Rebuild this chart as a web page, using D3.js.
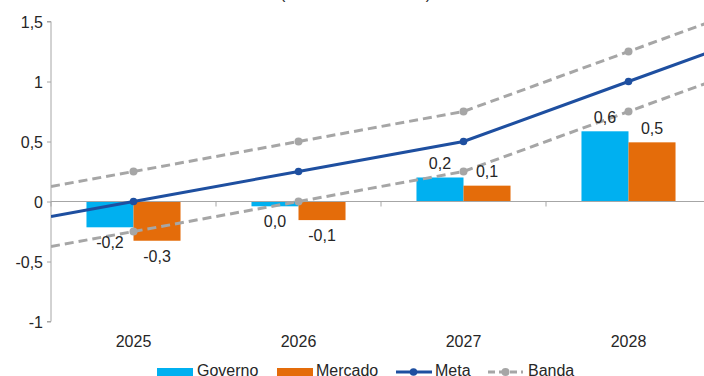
<!DOCTYPE html>
<html>
<head>
<meta charset="utf-8">
<script src="https://cdn.jsdelivr.net/npm/d3@7"></script>
<style>
  html, body { margin: 0; padding: 0; background: #fff; }
  svg { display: block; font-family: "Liberation Sans", Arial, sans-serif; }
</style>
</head>
<body>
<svg id="chart" width="704" height="376"></svg>
<script>
// ---- data ----
const years = ["2025", "2026", "2027", "2028"];
const governo = [-0.215, -0.04, 0.2, 0.585];
const mercado = [-0.327, -0.155, 0.132, 0.493];
const governoLabels = ["-0,2", "0,0", "0,2", "0,6"];
const mercadoLabels = ["-0,3", "-0,1", "0,1", "0,5"];
const meta = [0, 0.25, 0.5, 1.0];
const bandaSup = [0.25, 0.5, 0.75, 1.25];
const bandaInf = [-0.25, 0, 0.25, 0.75];
// line values read at the left / right edge of the plot area
const metaEdges = [-0.125, 1.25];
const bandaSupEdges = [0.125, 1.5];
const bandaInfEdges = [-0.375, 1.0];
const yTicks = [-1, -0.5, 0, 0.5, 1, 1.5];
const title = "(em % do PIB)";

// ---- layout ----
const colors = { governo: "#00B0F0", mercado: "#E46C0A", meta: "#1E4FA0", banda: "#A6A6A6", axis: "#A6A6A6", text: "#262626" };
const pLeft = 51, pRight = 711, pTop = 21.5, pBottom = 321.5;

const svg = d3.select("#chart");

const x = d3.scaleBand().domain(years).range([pLeft, pRight]).padding(0);
const bw = x.bandwidth();
const x1 = d3.scaleBand().domain(["governo", "mercado"]).range([bw * 0.215, bw * 0.785]).padding(0);
const y = d3.scaleLinear().domain([-1, 1.5]).range([pBottom, pTop]);
const fmt = v => String(v).replace(".", ",");

// title (mostly outside the picture, as in the reference)
svg.append("text")
  .attr("x", 355.5).attr("y", -1)
  .attr("text-anchor", "middle")
  .attr("font-size", 16)
  .attr("fill", colors.text)
  .attr("textLength", 151)
  .attr("lengthAdjust", "spacing")
  .text(title);

// y axis
const yAxis = d3.axisLeft(y).tickValues(yTicks).tickSize(4).tickPadding(4).tickFormat(fmt);
const gy = svg.append("g").attr("transform", `translate(${pLeft},0)`).call(yAxis);
gy.select(".domain").attr("stroke", colors.axis).attr("d", `M-4,${pTop}H0V${pBottom}H-4`);
gy.selectAll(".tick line").attr("stroke", colors.axis);
gy.selectAll(".tick text").attr("font-size", 16).attr("fill", colors.text)
  .attr("font-family", "'Liberation Sans', Arial, sans-serif").attr("dy", "0.35em");

// bars
const barData = [];
years.forEach((yr, i) => {
  barData.push({ yr, key: "governo", v: governo[i], label: governoLabels[i] });
  barData.push({ yr, key: "mercado", v: mercado[i], label: mercadoLabels[i] });
});
svg.append("g").selectAll("rect").data(barData).join("rect")
  .attr("x", d => x(d.yr) + x1(d.key))
  .attr("width", x1.bandwidth())
  .attr("y", d => y(Math.max(0, d.v)))
  .attr("height", d => Math.abs(y(d.v) - y(0)))
  .attr("fill", d => colors[d.key]);

// x axis at zero
const xAxis = d3.axisBottom(x).tickSize(0).tickFormat("");
const gx = svg.append("g").attr("transform", `translate(0,${y(0)})`).call(xAxis);
gx.select(".domain").attr("stroke", colors.axis).attr("d", `M${pLeft},0H${pRight}`);
svg.append("g").selectAll("line").data(years.concat(["end"])).join("line")
  .attr("x1", (d, i) => pLeft + i * bw).attr("x2", (d, i) => pLeft + i * bw)
  .attr("y1", y(0)).attr("y2", y(0) + 5)
  .attr("stroke", colors.axis).attr("stroke-width", 1);

// category labels
svg.append("g").selectAll("text").data(years).join("text")
  .attr("x", d => x(d) + bw / 2).attr("y", 346.5)
  .attr("text-anchor", "middle").attr("font-size", 16).attr("fill", colors.text)
  .text(d => d);

// lines
svg.append("clipPath").attr("id", "plotclip").append("rect")
  .attr("x", pLeft).attr("y", 0).attr("width", pRight - pLeft).attr("height", 376);

function series(vals, edges) {
  const pts = [{ px: pLeft, v: edges[0] }];
  years.forEach((yr, i) => pts.push({ px: x(yr) + bw / 2, v: vals[i] }));
  pts.push({ px: pRight, v: edges[1] });
  return pts;
}
const line = d3.line().x(d => d.px).y(d => y(d.v));
const lg = svg.append("g").attr("clip-path", "url(#plotclip)");

[[bandaSup, bandaSupEdges], [bandaInf, bandaInfEdges]].forEach(([vals, edges]) => {
  lg.append("path").datum(series(vals, edges)).attr("d", line)
    .attr("fill", "none").attr("stroke", colors.banda).attr("stroke-width", 3)
    .attr("stroke-dasharray", "9,5");
  lg.append("g").selectAll("circle").data(vals).join("circle")
    .attr("cx", (d, i) => x(years[i]) + bw / 2).attr("cy", d => y(d)).attr("r", 4)
    .attr("fill", colors.banda);
});
lg.append("path").datum(series(meta, metaEdges)).attr("d", line)
  .attr("fill", "none").attr("stroke", colors.meta).attr("stroke-width", 3);
lg.append("g").selectAll("circle").data(meta).join("circle")
  .attr("cx", (d, i) => x(years[i]) + bw / 2).attr("cy", d => y(d)).attr("r", 3.8)
  .attr("fill", colors.meta);

// data labels
svg.append("g").selectAll("text").data(barData).join("text")
  .attr("x", d => x(d.yr) + x1(d.key) + x1.bandwidth() / 2)
  .attr("y", d => d.v >= 0 ? y(d.v) - 8.5 : y(d.v) + 21)
  .attr("text-anchor", "middle").attr("font-size", 16).attr("fill", colors.text)
  .text(d => d.label);

// legend
const leg = svg.append("g");
const ly = 372, lb = 376;
leg.append("rect").attr("x", 157).attr("y", ly - 4).attr("width", 36).attr("height", 11).attr("fill", colors.governo);
leg.append("text").attr("x", 197).attr("y", lb).attr("font-size", 16).attr("fill", colors.text).text("Governo");
leg.append("rect").attr("x", 277).attr("y", ly - 4).attr("width", 36).attr("height", 11).attr("fill", colors.mercado);
leg.append("text").attr("x", 316).attr("y", lb).attr("font-size", 16).attr("fill", colors.text).text("Mercado");
leg.append("line").attr("x1", 396).attr("x2", 432).attr("y1", ly).attr("y2", ly).attr("stroke", colors.meta).attr("stroke-width", 3);
leg.append("circle").attr("cx", 413.5).attr("cy", ly).attr("r", 3.8).attr("fill", colors.meta);
leg.append("text").attr("x", 435).attr("y", lb).attr("font-size", 16).attr("fill", colors.text).text("Meta");
leg.append("line").attr("x1", 488).attr("x2", 523).attr("y1", ly).attr("y2", ly).attr("stroke", colors.banda).attr("stroke-width", 3).attr("stroke-dasharray", "7,4");
leg.append("circle").attr("cx", 505.5).attr("cy", ly).attr("r", 4).attr("fill", colors.banda);
leg.append("text").attr("x", 528).attr("y", lb).attr("font-size", 16).attr("fill", colors.text).text("Banda");
</script>
</body>
</html>
